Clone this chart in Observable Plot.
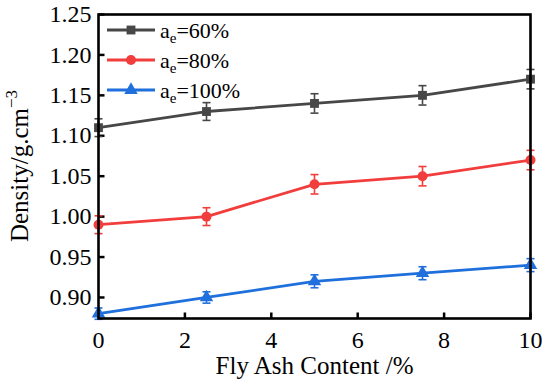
<!DOCTYPE html>
<html><head><meta charset="utf-8">
<script src="https://cdn.jsdelivr.net/npm/d3@7"></script>
<script src="https://cdn.jsdelivr.net/npm/@observablehq/plot@0.6"></script>
<style>
body{margin:0;background:#fff}
svg, svg text{font-family:"Liberation Serif","Times New Roman",serif !important}
</style>
</head><body><div id="chart"></div>
<script>
// ---- data ----
const flyAsh = [0, 2.5, 5, 7.5, 10];
const seriesLabels = ["60%", "80%", "100%"];
const density60 = [1.11, 1.13, 1.14, 1.15, 1.17];
const density80 = [0.99, 1.00, 1.04, 1.05, 1.07];
const density100 = [0.88, 0.90, 0.92, 0.93, 0.94];
const err60 = [0.011, 0.011, 0.012, 0.012, 0.012];
const err80 = [0.011, 0.011, 0.012, 0.012, 0.012];
const err100 = [0.007, 0.007, 0.008, 0.008, 0.008];
const xTicks = [0, 2, 4, 6, 8, 10];
const yTicks = [0.90, 0.95, 1.00, 1.05, 1.10, 1.15, 1.20, 1.25];
const xTitle = "Fly Ash Content /%";

// ---- styles ----
const FONT = "'Liberation Serif','Times New Roman',serif";
const colors = ["#474747", "#f23d3d", "#1f6fdc"];
const symbols = ["square", "circle", "triangle"];
const symbolR = [5, 5, 5];

const series = [density60, density80, density100];
const errs = [err60, err80, err100];
const rows = [];
series.forEach((vals, s) => vals.forEach((v, i) => rows.push({s, x: flyAsh[i], y: v, e: errs[s][i]})));

const cap = {draw(ctx, size){ const r = Math.sqrt(size/Math.PI); ctx.moveTo(-r,0); ctx.lineTo(r,0);} };
const tickRight = {draw(ctx, size){ const r = Math.sqrt(size/Math.PI); ctx.moveTo(0,0); ctx.lineTo(r,0);} };
const tickUp = {draw(ctx, size){ const r = Math.sqrt(size/Math.PI); ctx.moveTo(0,0); ctx.lineTo(0,-r);} };

const marks = [
  Plot.axisX(xTicks, {tickSize: 0, tickPadding: 12, fontSize: 24, fontFamily: FONT, label: null, color: "#000"}),
  Plot.axisY(yTicks, {tickSize: 0, tickPadding: 7, fontSize: 24, fontFamily: FONT, label: null, tickFormat: d3.format(".2f"), color: "#000"}),
  Plot.dot(yTicks, {x: () => 0, y: d => d, symbol: tickRight, r: 6, stroke: "#000", strokeWidth: 2.5, fill: "none"}),
  Plot.dot(xTicks, {x: d => d, y: () => 0.874, symbol: tickUp, r: 6, stroke: "#000", strokeWidth: 2.5, fill: "none"}),
  Plot.text([xTitle], {frameAnchor: "bottom", dy: 55, fontSize: 25, fontFamily: FONT, fill: "#000"})
];
series.forEach((_, s) => {
  const d = rows.filter(r => r.s === s);
  marks.push(
    Plot.line(d, {x: "x", y: "y", stroke: colors[s], strokeWidth: 2.8}),
    Plot.ruleX(d, {x: "x", y1: r => r.y - r.e, y2: r => r.y + r.e, stroke: colors[s], strokeWidth: 1.6}),
    Plot.dot(d, {x: "x", y: r => r.y - r.e, symbol: cap, r: 4, stroke: colors[s], strokeWidth: 1.6}),
    Plot.dot(d, {x: "x", y: r => r.y + r.e, symbol: cap, r: 4, stroke: colors[s], strokeWidth: 1.6}),
    Plot.dot(d, {x: "x", y: "y", symbol: symbols[s], r: symbolR[s], fill: colors[s], stroke: "none"})
  );
});
marks.push(Plot.frame({stroke: "#000", strokeWidth: 2.6}));

const chart = Plot.plot({
  width: 550, height: 388,
  marginLeft: 98, marginRight: 20, marginTop: 14, marginBottom: 70,
  style: {fontFamily: FONT, background: "#fff", color: "#000"},
  x: {domain: [0, 10]},
  y: {domain: [0.874, 1.25]},
  marks
});
document.getElementById("chart").append(chart);

// ---- y axis title with superscript ----
const svg = d3.select(chart);
const yt = svg.append("text")
  .attr("transform", "translate(28,166) rotate(-90)")
  .attr("text-anchor", "middle")
  .attr("font-family", FONT)
  .attr("font-size", 25)
  .attr("fill", "#000");
yt.append("tspan").text("Density/g.cm");
yt.append("tspan").attr("font-size", 17).attr("dy", -11).text("\u22123");

// ---- legend ----
const legend = svg.append("g");
seriesLabels.forEach((lab, s) => {
  const cy = 30 + s * 30;
  const g = legend.append("g").attr("transform", `translate(0,${cy})`);
  g.append("line").attr("x1", 107).attr("x2", 155).attr("y1", 0).attr("y2", 0)
    .attr("stroke", colors[s]).attr("stroke-width", 2.8);
  const sym = [d3.symbolSquare, d3.symbolCircle, d3.symbolTriangle][s];
  g.append("path").attr("transform", "translate(131,0)")
    .attr("d", d3.symbol(sym, Math.PI * symbolR[s] * symbolR[s])()).attr("fill", colors[s]);
  const t = g.append("text").attr("x", 160).attr("y", 8)
    .attr("text-anchor", "start")
    .attr("font-family", FONT).attr("font-size", 22).attr("fill", "#000");
  t.append("tspan").text("a");
  t.append("tspan").attr("font-size", 15).attr("dy", 5).text("e");
  t.append("tspan").attr("dy", -5).text("=" + lab);
});
</script></body></html>
